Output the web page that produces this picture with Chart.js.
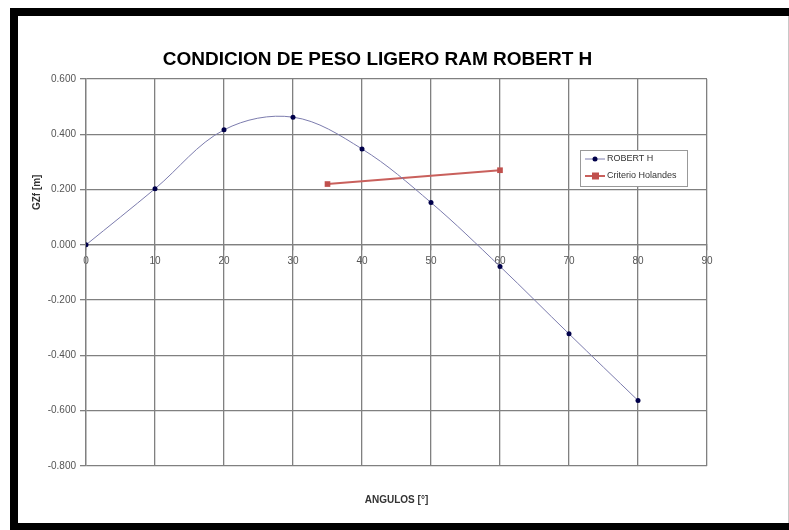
<!DOCTYPE html>
<html>
<head>
<meta charset="utf-8">
<script src="https://cdn.jsdelivr.net/npm/chart.js@4/dist/chart.umd.min.js"></script>
<style>
  html, body { margin: 0; padding: 0; background: #fff; }
  #wrap { width: 789px; height: 530px; }
</style>
</head>
<body>
<div id="wrap"><canvas id="myChart" width="789" height="530"></canvas></div>
<script>
// angles (deg) and righting arm values
const angles = [0, 10, 20, 30, 40, 50, 60, 70, 80];
const gzRobert = [0.000, 0.203, 0.416, 0.462, 0.347, 0.153, -0.078, -0.322, -0.563];
const criterioAngles = [35, 60];
const criterioValues = [0.220, 0.270];
const yTicks = [-0.8, -0.6, -0.4, -0.2, 0, 0.2, 0.4, 0.6];
const xTicks = [0, 10, 20, 30, 40, 50, 60, 70, 80, 90];

const FONT = "'Liberation Sans', Arial, sans-serif";

const toPoints = (xs, ys) => xs.map((x, i) => ({ x: x, y: ys[i] }));

// white page + black frame (top, left, bottom)
const framePlugin = {
    id: 'frame',
    beforeDraw(chart) {
        const ctx = chart.ctx;
        ctx.save();
        ctx.fillStyle = '#fff';
        ctx.fillRect(0, 0, chart.width, chart.height);
        ctx.restore();
    },
    afterDraw(chart) {
        const ctx = chart.ctx;
        ctx.save();
        ctx.fillStyle = '#000';
        ctx.fillRect(10, 8, chart.width - 10, 8);
        ctx.fillRect(10, 8, 8, chart.height - 8);
        ctx.fillRect(10, 523, chart.width - 10, 7);
        ctx.fillStyle = '#c8c8c8';
        ctx.fillRect(chart.width - 1, 16, 1, 507);
        ctx.restore();
    }
};

// y axis title sits beside the zero line, like the original
const yTitlePlugin = {
    id: 'yTitle',
    afterDraw(chart) {
        const ctx = chart.ctx;
        const y = chart.scales.y.getPixelForValue(0.19);
        ctx.save();
        ctx.translate(37, y);
        ctx.rotate(-Math.PI / 2);
        ctx.font = 'bold 10px ' + FONT;
        ctx.fillStyle = '#333';
        ctx.textAlign = 'center';
        ctx.textBaseline = 'middle';
        ctx.fillText('GZf [m]', 0, 0);
        ctx.restore();
    }
};

// small boxed legend inside the plot
const boxLegendPlugin = {
    id: 'boxLegend',
    afterDraw(chart) {
        const ctx = chart.ctx;
        const x0 = 580, y0 = 150, w = 107, h = 36;
        ctx.save();
        ctx.fillStyle = '#fff';
        ctx.fillRect(x0, y0, w, h);
        ctx.strokeStyle = '#999';
        ctx.lineWidth = 1;
        ctx.strokeRect(x0 + 0.5, y0 + 0.5, w, h);
        chart.data.datasets.forEach((ds, i) => {
            const cy = y0 + 9 + i * 17;
            ctx.strokeStyle = ds.borderColor;
            ctx.lineWidth = ds.borderWidth;
            ctx.beginPath();
            ctx.moveTo(x0 + 5, cy);
            ctx.lineTo(x0 + 25, cy);
            ctx.stroke();
            ctx.fillStyle = ds.pointBackgroundColor;
            ctx.beginPath();
            if (ds.pointStyle === 'rect') {
                ctx.rect(x0 + 12, cy - 3.5, 7, 7);
            } else {
                ctx.arc(x0 + 15, cy, 2.5, 0, Math.PI * 2);
            }
            ctx.fill();
            ctx.font = '9px ' + FONT;
            ctx.fillStyle = '#333';
            ctx.textAlign = 'left';
            ctx.textBaseline = 'middle';
            ctx.fillText(ds.label, x0 + 27, cy);
        });
        ctx.restore();
    }
};

const chartContext = document.getElementById('myChart').getContext('2d');

const myChart = new Chart(chartContext, {
    type: 'line',
    data: {
        datasets: [{
            label: 'ROBERT H',
            data: toPoints(angles, gzRobert),
            borderColor: '#7c7cae',
            borderWidth: 1,
            pointStyle: 'circle',
            pointRadius: 2.5,
            pointBackgroundColor: '#00004a',
            pointBorderColor: '#00004a',
            pointBorderWidth: 0,
            tension: 0.35,
            fill: false
        }, {
            label: 'Criterio Holandes',
            data: toPoints(criterioAngles, criterioValues),
            borderColor: '#c9605c',
            borderWidth: 2,
            pointStyle: 'rect',
            pointRadius: 4,
            pointBackgroundColor: '#c0504d',
            pointBorderColor: '#c0504d',
            pointBorderWidth: 0,
            tension: 0,
            fill: false
        }]
    },
    options: {
        responsive: false,
        animation: false,
        layout: { padding: { left: 48, right: 82, top: 10, bottom: 0 } },
        plugins: {
            legend: { display: false },
            tooltip: { enabled: false },
            title: {
                display: true,
                text: 'CONDICION DE PESO LIGERO RAM ROBERT H',
                color: '#000',
                font: { family: FONT, size: 19, weight: 'bold' },
                padding: { top: 38.6, bottom: 7.6 }
            }
        },
        scales: {
            x: {
                type: 'linear',
                position: { y: 0 },
                min: 0,
                max: 90,
                afterBuildTicks: (scale) => { scale.ticks = xTicks.map(v => ({ value: v })); },
                ticks: {
                    color: '#555',
                    font: { family: FONT, size: 10 },
                    padding: 5,
                    maxRotation: 0
                },
                grid: { color: '#808080', lineWidth: 1.3, tickLength: 5 },
                border: { color: '#808080', width: 1.3 }
            },
            xTitle: {
                type: 'linear',
                position: 'bottom',
                min: 0,
                max: 90,
                ticks: { display: false },
                grid: { display: false, drawTicks: false },
                border: { display: false },
                afterFit: (scale) => { scale.height = 64; },
                title: {
                    display: true,
                    text: 'ANGULOS [°]',
                    color: '#333',
                    font: { family: FONT, size: 10, weight: 'bold' },
                    padding: { top: 0, bottom: 23.6 }
                }
            },
            y: {
                type: 'linear',
                min: -0.8,
                max: 0.6,
                afterBuildTicks: (scale) => { scale.ticks = yTicks.map(v => ({ value: v })); },
                afterFit: (scale) => { scale.width = 38; },
                ticks: {
                    color: '#555',
                    font: { family: FONT, size: 10 },
                    padding: 4,
                    callback: (v) => Number(v).toFixed(3)
                },
                grid: { color: '#808080', lineWidth: 1.3, tickLength: 6 },
                border: { color: '#808080', width: 1.3 }
            }
        }
    },
    plugins: [framePlugin, yTitlePlugin, boxLegendPlugin]
});
</script>
</body>
</html>
